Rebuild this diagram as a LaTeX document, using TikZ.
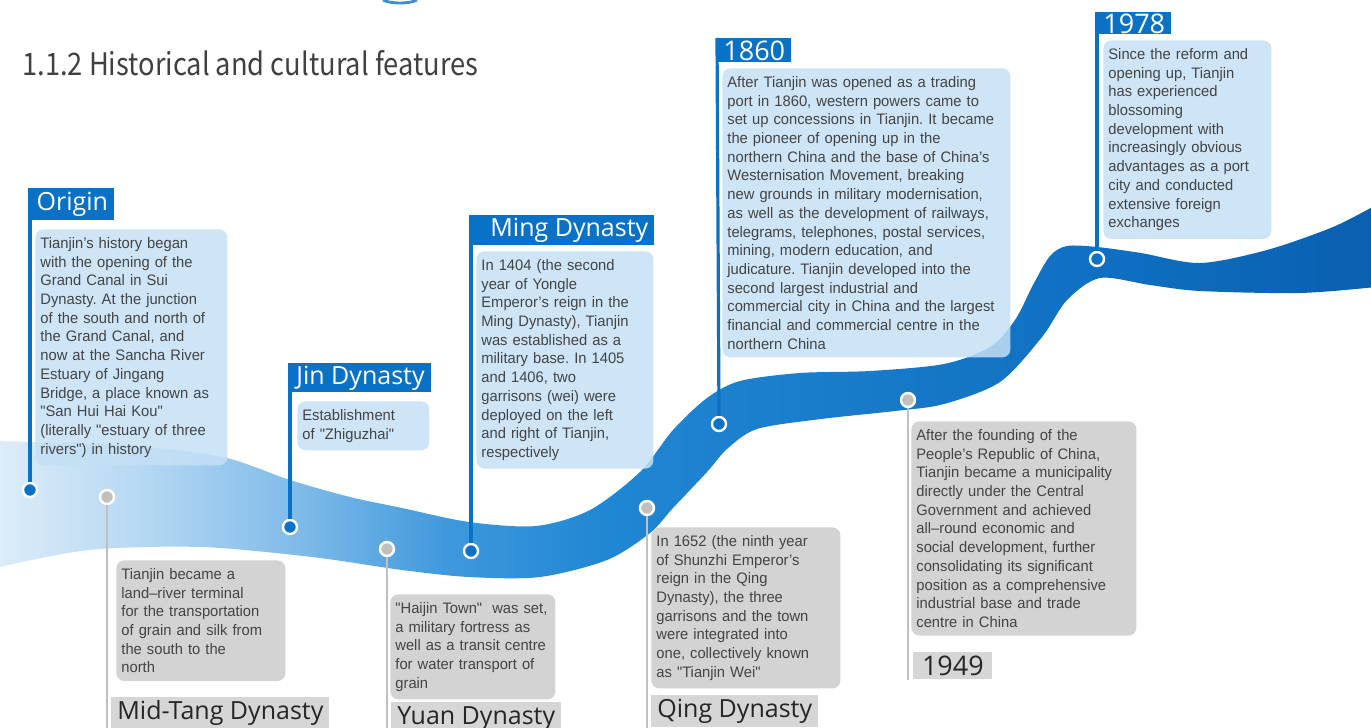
\documentclass[tikz,border=0pt]{standalone}
\usepackage{fontspec}
\setmainfont{Liberation Sans}[Ligatures=TeXOff, FakeStretch=0.97]
\newfontfamily\labfont{Open Sans}
\newfontfamily\headfont[FakeStretch=0.88]{Noto Sans CJK SC}
\usepackage{tikz}
\frenchspacing
\hyphenpenalty=10000
\exhyphenpenalty=10000

\definecolor{tjblue}{RGB}{10,114,198}
\definecolor{tjbox}{RGB}{196,224,245}
\definecolor{tjgray}{RGB}{211,211,211}
\definecolor{tjlabel}{RGB}{214,214,214}
\definecolor{tjdot}{RGB}{192,192,192}
\definecolor{tjstem}{RGB}{192,192,192}
\definecolor{tjtext}{RGB}{68,68,68}
\definecolor{tjtitle}{RGB}{64,64,64}
\definecolor{rvA}{RGB}{222,237,249}
\definecolor{rvB}{RGB}{180,215,242}
\definecolor{rvC}{RGB}{127,187,233}
\definecolor{rvD}{RGB}{63,152,220}
\definecolor{rvE}{RGB}{32,135,212}
\definecolor{rvF}{RGB}{26,125,205}
\definecolor{rvG}{RGB}{15,111,194}
\definecolor{rvH}{RGB}{10,95,176}
\pgfdeclarehorizontalshading{rivershade}{100bp}{color(0bp)=(rvA); color(25bp)=(rvA); color(30.5bp)=(rvB); color(36bp)=(rvC); color(41.4bp)=(rvD); color(47bp)=(rvE); color(54bp)=(rvF); color(65bp)=(rvG); color(75bp)=(rvH); color(100bp)=(rvH)}

\tikzset{
	bluebox/.style={fill=tjbox, fill opacity=0.85, text opacity=1, rounded corners=4pt, text=tjtext, font=\fontsize{7.6}{9.35}\selectfont, align=left, inner xsep=2.5pt, inner ysep=4pt, anchor=north west},
	graybox/.style={bluebox, fill=tjgray, fill opacity=1},
	bluelabel/.style={fill=tjblue, text=white, font=\labfont\fontsize{12.5}{14}\selectfont, inner xsep=3pt, inner ysep=0pt, minimum height=15pt, anchor=north west},
	graylabel/.style={bluelabel, fill=tjlabel, text=black!85},
	yearfont/.style={font=\labfont\fontsize{13.5}{15}\selectfont},
	bluedot/.style={circle, fill=tjblue, draw=white, line width=1.2pt, minimum size=7pt, inner sep=0pt},
	graydot/.style={bluedot, fill=tjdot},
	bluestem/.style={tjblue, line width=1.6pt},
	graystem/.style={tjstem, line width=1pt}
}

\begin{document}
\begin{tikzpicture}[x=0.5pt, y=-0.5pt]
	%%%%% START %%%%%
	\useasboundingbox (0,0) rectangle (1371,728);
	\clip (0,0) rectangle (1371,728);
	
	\draw[tjblue!80, line width=1.4pt] (383,0) .. controls (390,4) and (410,4) .. (417,0);
	
	\node[anchor=base west, inner sep=0pt, text=tjtitle, font=\headfont\fontsize{15.5}{19}\selectfont] (title) at (22,75) {1.1.2 Historical and cultural features};
	
	% river band
	\path[shading=rivershade] plot[smooth, tension=0.5] coordinates {(-5,441) (60,443) (134,446) (223,457) (290,480) (350,497) (402,508) (469,522) (536,526) (590,510) (640,472) (673,430) (707,398) (740,381) (800,373) (870,371) (944,364) (990,347) (1015,320) (1033,285) (1050,256) (1067,246) (1097,247) (1141,253) (1200,263) (1267,250) (1333,227) (1376,205)}
		-- plot[smooth, tension=0.5] coordinates {(1376,287) (1300,293) (1200,291) (1150,285) (1100,278) (1067,300) (1042,337) (1000,382) (944,404) (895,411) (821,419) (757,429) (727,449) (707,472) (673,508) (650,533) (607,560) (540,577) (469,577) (402,570) (312,557) (201,547) (89,550) (-5,568)} -- cycle;
	
	% dots on the band
	\node[bluedot] (d-origin) at (30,490) {};
	\node[graydot] (d-midtang) at (107,497) {};
	\node[bluedot] (d-jin) at (290,527) {};
	\node[graydot] (d-yuan) at (387,549) {};
	\node[bluedot] (d-ming) at (471,551) {};
	\node[graydot] (d-qing) at (647,508) {};
	\node[bluedot] (d-1860) at (719,424) {};
	\node[graydot] (d-1949) at (908,400) {};
	\node[bluedot] (d-1978) at (1097,259) {};
	
	\coordinate (e-midtang) at (107,728);
	\coordinate (e-yuan) at (387,728);
	\coordinate (e-qing) at (647,728);
	\coordinate (e-1949) at (908,680);
	
	% Origin
	\node[bluelabel, minimum width=42pt, minimum height=16pt] (l-origin) at (30,188) {Origin};
	\node[bluebox, text width=91pt] (t-origin) at (35,229) {Tianjin’s history began\\with the opening of the\\Grand Canal in Sui\\Dynasty. At the junction\\of the south and north of\\the Grand Canal, and\\now at the Sancha River\\Estuary of Jingang\\Bridge, a place known as\\"San Hui Hai Kou"\\(literally "estuary of three\\rivers") in history};
	\draw[bluestem] (l-origin.north west) -- (d-origin.north);
	
	% Mid-Tang Dynasty
	\node[graybox, text width=79.5pt] (t-midtang) at (116,560) {Tianjin became a\\land–river terminal\\for the transportation\\of grain and silk from\\the south to the\\north};
	\node[graylabel, minimum width=108pt, minimum height=16pt] (l-midtang) at (111,697) {Mid-Tang Dynasty};
	\draw[graystem] (d-midtang.south) -- (e-midtang);
	
	% Jin Dynasty
	\node[bluelabel, minimum width=69pt, minimum height=14.5pt] (l-jin) at (290,363) {Jin Dynasty};
	\node[bluebox, text width=61pt] (t-jin) at (297,401) {Establishment\\of "Zhiguzhai"};
	\draw[bluestem] (l-jin.north west) -- (d-jin.north);
	
	% Yuan Dynasty
	\node[graybox, text width=77.5pt] (t-yuan) at (390,594) {"Haijin Town"\ \ was set,\\a military fortress as\\well as a transit centre\\for water transport of\\grain};
	\node[graylabel, minimum width=82pt, minimum height=16pt] (l-yuan) at (391,702) {Yuan Dynasty};
	\draw[graystem] (d-yuan.south) -- (e-yuan);
	
	% Ming Dynasty
	\node[bluelabel, minimum width=90pt] (l-ming) at (471,215) {\ \ Ming Dynasty};
	\node[bluebox, text width=83.5pt] (t-ming) at (476,251) {In 1404 (the second\\year of Yongle\\Emperor’s reign in the\\Ming Dynasty), Tianjin\\was established as a\\military base. In 1405\\and 1406, two\\garrisons (wei) were\\deployed on the left\\and right of Tianjin,\\respectively};
	\draw[bluestem] (l-ming.north west) -- (d-ming.north);
	
	% Qing Dynasty
	\node[graybox, text width=89.5pt] (t-qing) at (651,527) {In 1652 (the ninth year\\of Shunzhi Emperor’s\\reign in the Qing\\Dynasty), the three\\garrisons and the town\\were integrated into\\one, collectively known\\as "Tianjin Wei"};
	\node[graylabel, minimum width=80.5pt, minimum height=16pt] (l-qing) at (651,695) {Qing Dynasty};
	\draw[graystem] (d-qing.south) -- (e-qing);
	
	% 1860
	\node[bluelabel, yearfont, minimum width=35pt, minimum height=12pt] (l-1860) at (717,38) {1860};
	\node[bluebox, text width=139pt] (t-1860) at (722,68) {After Tianjin was opened as a trading\\port in 1860, western powers came to\\set up concessions in Tianjin. It became\\the pioneer of opening up in the\\northern China and the base of China’s\\Westernisation Movement, breaking\\new grounds in military modernisation,\\as well as the development of railways,\\telegrams, telephones, postal services,\\mining, modern education, and\\judicature. Tianjin developed into the\\second largest industrial and\\commercial city in China and the largest\\financial and commercial centre in the\\northern China};
	\draw[bluestem] (l-1860.north west) -- (d-1860.north);
	
	% 1949
	\node[graybox, text width=107.5pt] (t-1949) at (911,421) {After the founding of the\\People’s Republic of China,\\Tianjin became a municipality\\directly under the Central\\Government and achieved\\all–round economic and\\social development, further\\consolidating its significant\\position as a comprehensive\\industrial base and trade\\centre in China};
	\node[graylabel, yearfont, minimum width=39.5pt, minimum height=13.5pt] (l-1949) at (913,652) {1949};
	\draw[graystem] (d-1949.south) -- (e-1949);
	
	% 1978
	\node[bluelabel, yearfont, minimum width=34pt, minimum height=11pt] (l-1978) at (1097,12) {1978};
	\node[bluebox, text width=79pt] (t-1978) at (1103,40) {Since the reform and\\opening up, Tianjin\\has experienced\\blossoming\\development with\\increasingly obvious\\advantages as a port\\city and conducted\\extensive foreign\\exchanges};
	\draw[bluestem] (l-1978.north west) -- (d-1978.north);
	
	%%%%% END %%%%%
\end{tikzpicture}
\end{document}
